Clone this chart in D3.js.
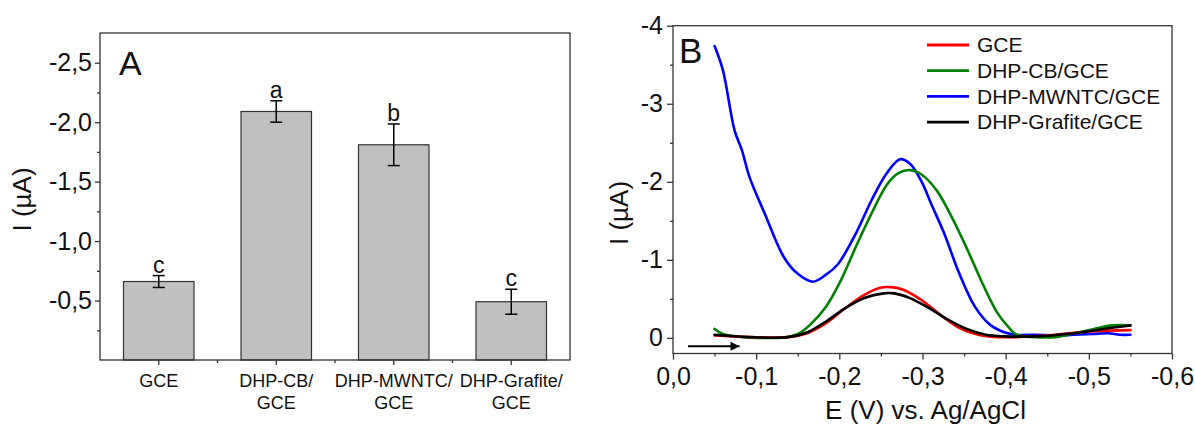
<!DOCTYPE html>
<html>
<head>
<meta charset="utf-8">
<script src="https://cdn.jsdelivr.net/npm/d3@7"></script>
<style>
  html, body { margin: 0; padding: 0; background: #fff; }
  svg text { font-family: Arial, "Liberation Sans", sans-serif; fill: #111; }
</style>
</head>
<body>
<svg id="chart" width="1195" height="426"></svg>
<script>
// ---------- Panel A data ----------
const categories = ["GCE", "DHP-CB/GCE", "DHP-MWNTC/GCE", "DHP-Grafite/GCE"];
const categoryLines = [["GCE"], ["DHP-CB/", "GCE"], ["DHP-MWNTC/", "GCE"], ["DHP-Grafite/", "GCE"]];
const barValues = [-0.66, -2.09, -1.81, -0.49];
const barErrors = [0.05, 0.09, 0.175, 0.105];
const barLetters = ["c", "a", "b", "c"];
const yTicksA = [-0.5, -1.0, -1.5, -2.0, -2.5];
const yMinorA = [-0.25, -0.75, -1.25, -1.75, -2.25];

// ---------- Panel B data (E in V, I in µA) ----------
const seriesNames = ["GCE", "DHP-CB/GCE", "DHP-MWNTC/GCE", "DHP-Grafite/GCE"];
const seriesColors = ["#ff0000", "#008000", "#0000ff", "#000000"];
const mwntcE = [-0.05, -0.06, -0.074, -0.083, -0.092, -0.110, -0.133, -0.149, -0.168, -0.184, -0.198, -0.220, -0.239, -0.257, -0.273, -0.285, -0.298, -0.312, -0.326, -0.344, -0.363, -0.381, -0.399, -0.413, -0.436, -0.459, -0.482, -0.505, -0.523, -0.537, -0.55];
const mwntcI = [-3.74, -3.43, -2.66, -2.40, -2.06, -1.60, -1.04, -0.83, -0.72, -0.81, -0.94, -1.34, -1.77, -2.11, -2.29, -2.23, -2.02, -1.68, -1.34, -0.83, -0.40, -0.17, -0.07, -0.04, -0.04, -0.03, -0.04, -0.05, -0.06, -0.04, -0.04];
const cbE = [-0.05, -0.06, -0.083, -0.115, -0.138, -0.152, -0.165, -0.184, -0.202, -0.220, -0.239, -0.257, -0.271, -0.285, -0.298, -0.317, -0.335, -0.354, -0.372, -0.390, -0.404, -0.413, -0.436, -0.459, -0.482, -0.505, -0.528, -0.55];
const cbI = [-0.115, -0.05, -0.01, 0.0, -0.01, -0.06, -0.17, -0.40, -0.74, -1.17, -1.60, -1.96, -2.11, -2.15, -2.10, -1.89, -1.55, -1.13, -0.70, -0.32, -0.13, -0.04, -0.01, -0.01, -0.06, -0.11, -0.16, -0.16];
const gceE = [-0.05, -0.092, -0.138, -0.161, -0.184, -0.207, -0.230, -0.248, -0.262, -0.276, -0.298, -0.321, -0.344, -0.367, -0.390, -0.413, -0.459, -0.505, -0.55];
const gceI = [-0.03, -0.01, -0.01, -0.06, -0.19, -0.38, -0.55, -0.64, -0.65, -0.62, -0.49, -0.30, -0.13, -0.04, -0.01, -0.01, -0.04, -0.085, -0.10];
const grafE = [-0.05, -0.092, -0.138, -0.161, -0.184, -0.207, -0.230, -0.253, -0.266, -0.285, -0.308, -0.331, -0.354, -0.376, -0.399, -0.436, -0.482, -0.528, -0.55];
const grafI = [-0.04, -0.01, -0.01, -0.07, -0.21, -0.38, -0.51, -0.57, -0.57, -0.51, -0.38, -0.23, -0.11, -0.04, -0.02, -0.02, -0.06, -0.13, -0.16];
const xTicksB = [0, -0.1, -0.2, -0.3, -0.4, -0.5, -0.6];
const xMinorB = [-0.05, -0.15, -0.25, -0.35, -0.45, -0.55];
const yTicksB = [0, -1, -2, -3, -4];
const yMinorB = [-0.5, -1.5, -2.5, -3.5];
const arrowE = [-0.018, -0.08];
const arrowI = 0.107;

const svg = d3.select("#chart");
const axisColor = "#333";
const comma = v => d3.format(".1f")(v).replace(".", ",").replace("\u2212", "-");
const intFmt = v => d3.format("d")(v).replace("\u2212", "-");

// ================= Panel A =================
const A = { left: 100, right: 570, top: 33, bottom: 360 };
const xA = d3.scaleBand().domain(categories).range([A.left, A.right]).paddingInner(0.4).paddingOuter(0.2);
const yA = d3.scaleLinear().domain([0, -2.75]).range([A.bottom, A.top]);
const gA = svg.append("g");

// bars
gA.selectAll("rect.bar").data(categories).join("rect")
  .attr("class", "bar")
  .attr("x", d => xA(d))
  .attr("width", xA.bandwidth())
  .attr("y", (d, i) => yA(barValues[i]))
  .attr("height", (d, i) => yA(0) - yA(barValues[i]))
  .attr("fill", "#c0c0c0").attr("stroke", "#333").attr("stroke-width", 1.2);

// error bars
const capW = 6;
categories.forEach((c, i) => {
  const cx = xA(c) + xA.bandwidth() / 2;
  const y1 = yA(barValues[i] - barErrors[i]);
  const y2 = yA(barValues[i] + barErrors[i]);
  gA.append("line").attr("x1", cx).attr("x2", cx).attr("y1", y1).attr("y2", y2).attr("stroke", "#000").attr("stroke-width", 1.5);
  gA.append("line").attr("x1", cx - capW).attr("x2", cx + capW).attr("y1", y1).attr("y2", y1).attr("stroke", "#000").attr("stroke-width", 1.5);
  gA.append("line").attr("x1", cx - capW).attr("x2", cx + capW).attr("y1", y2).attr("y2", y2).attr("stroke", "#000").attr("stroke-width", 1.5);
  gA.append("text").attr("x", cx).attr("y", y1 - 3).attr("text-anchor", "middle")
    .style("font-size", "23px").text(barLetters[i]);
});

// frame
gA.append("rect").attr("x", A.left).attr("y", A.top).attr("width", A.right - A.left).attr("height", A.bottom - A.top)
  .attr("fill", "none").attr("stroke", axisColor).attr("stroke-width", 1.3);

// y axis A
const yAxA = gA.append("g").attr("transform", `translate(${A.left},0)`)
  .call(d3.axisLeft(yA).tickValues(yTicksA).tickFormat(comma).tickSize(5).tickPadding(3));
yAxA.select(".domain").remove();
yAxA.selectAll("line").attr("stroke", axisColor).attr("stroke-width", 1.3);
yAxA.selectAll("text").style("font-size", "25px").attr("fill", "#111");
const yAxAm = gA.append("g").attr("transform", `translate(${A.left},0)`)
  .call(d3.axisLeft(yA).tickValues(yMinorA).tickFormat("").tickSize(3));
yAxAm.select(".domain").remove();
yAxAm.selectAll("line").attr("stroke", axisColor).attr("stroke-width", 1.3);

// x axis A
const xAxA = gA.append("g").attr("transform", `translate(0,${A.bottom})`)
  .call(d3.axisBottom(xA).tickSize(5).tickFormat(""));
xAxA.select(".domain").remove();
xAxA.selectAll("line").attr("stroke", axisColor).attr("stroke-width", 1.3);
categories.slice(1).forEach(c => {
  const bx = xA(c) - xA.step() * xA.paddingInner() / 2;
  gA.append("line").attr("x1", bx).attr("x2", bx).attr("y1", A.bottom).attr("y2", A.bottom + 3)
    .attr("stroke", axisColor).attr("stroke-width", 1.3);
});
categories.forEach((c, i) => {
  const cx = xA(c) + xA.bandwidth() / 2;
  const t = gA.append("text").attr("x", cx).attr("y", A.bottom + 27).attr("text-anchor", "middle").style("font-size", "18px");
  categoryLines[i].forEach((ln, j) => {
    t.append("tspan").attr("x", cx).attr("dy", j === 0 ? 0 : 22).text(ln);
  });
});

gA.append("text").attr("transform", `translate(31,${(A.top + A.bottom) / 2 + 3}) rotate(-90)`)
  .attr("text-anchor", "middle").style("font-size", "26px").text("I (µA)");
gA.append("text").attr("x", 119).attr("y", 75).style("font-size", "34px").text("A");

// ================= Panel B =================
const B = { left: 673, right: 1172, top: 25.7, bottom: 353.5 };
const xB = d3.scaleLinear().domain([0, -0.6]).range([B.left, B.right]);
const yB = d3.scaleLinear().domain([0.2, -4]).range([B.bottom, B.top]);
const gB = svg.append("g");

const seriesData = [
  { name: seriesNames[0], color: seriesColors[0], E: gceE, I: gceI },
  { name: seriesNames[1], color: seriesColors[1], E: cbE, I: cbI },
  { name: seriesNames[2], color: seriesColors[2], E: mwntcE, I: mwntcI },
  { name: seriesNames[3], color: seriesColors[3], E: grafE, I: grafI }
];
const line = d3.line().x(d => xB(d[0])).y(d => yB(d[1])).curve(d3.curveCatmullRom.alpha(0.5));
const drawOrder = [2, 1, 0, 3];
drawOrder.forEach(k => {
  const s = seriesData[k];
  gB.append("path").datum(s.E.map((e, i) => [e, s.I[i]]))
    .attr("d", line).attr("fill", "none").attr("stroke", s.color).attr("stroke-width", 2.6)
    .attr("stroke-linejoin", "round").attr("stroke-linecap", "round");
});

// arrow
svg.append("defs").append("marker").attr("id", "arr").attr("viewBox", "0 0 10 10")
  .attr("refX", 10).attr("refY", 5).attr("markerWidth", 15).attr("markerHeight", 9)
  .attr("markerUnits", "userSpaceOnUse").attr("orient", "auto")
  .append("path").attr("d", "M0,0 L10,5 L0,10 Z").attr("fill", "#000");
gB.append("line").attr("x1", xB(arrowE[0])).attr("x2", xB(arrowE[1])).attr("y1", yB(arrowI)).attr("y2", yB(arrowI))
  .attr("stroke", "#000").attr("stroke-width", 2.2).attr("marker-end", "url(#arr)");

// frame
gB.append("rect").attr("x", B.left).attr("y", B.top).attr("width", B.right - B.left).attr("height", B.bottom - B.top)
  .attr("fill", "none").attr("stroke", axisColor).attr("stroke-width", 1.3);

const yAxB = gB.append("g").attr("transform", `translate(${B.left},0)`)
  .call(d3.axisLeft(yB).tickValues(yTicksB).tickFormat(intFmt).tickSize(6).tickPadding(4));
yAxB.select(".domain").remove();
yAxB.selectAll("line").attr("stroke", axisColor).attr("stroke-width", 1.3);
yAxB.selectAll("text").style("font-size", "25px").attr("fill", "#111");
const yAxBm = gB.append("g").attr("transform", `translate(${B.left},0)`)
  .call(d3.axisLeft(yB).tickValues(yMinorB).tickFormat("").tickSize(3));
yAxBm.select(".domain").remove();
yAxBm.selectAll("line").attr("stroke", axisColor).attr("stroke-width", 1.3);

const xAxB = gB.append("g").attr("transform", `translate(0,${B.bottom})`)
  .call(d3.axisBottom(xB).tickValues(xTicksB).tickFormat(comma).tickSize(6).tickPadding(8));
xAxB.select(".domain").remove();
xAxB.selectAll("line").attr("stroke", axisColor).attr("stroke-width", 1.3);
xAxB.selectAll("text").style("font-size", "25px").attr("fill", "#111");
const xAxBm = gB.append("g").attr("transform", `translate(0,${B.bottom})`)
  .call(d3.axisBottom(xB).tickValues(xMinorB).tickFormat("").tickSize(3));
xAxBm.select(".domain").remove();
xAxBm.selectAll("line").attr("stroke", axisColor).attr("stroke-width", 1.3);

gB.append("text").attr("x", (B.left + B.right) / 2 + 3).attr("y", 419).attr("text-anchor", "middle")
  .style("font-size", "26px").text("E (V) vs. Ag/AgCl");
gB.append("text").attr("transform", `translate(628,213) rotate(-90)`)
  .attr("text-anchor", "middle").style("font-size", "26px").text("I (µA)");
gB.append("text").attr("x", 679).attr("y", 63).style("font-size", "35px").text("B");

// legend
const leg = gB.append("g");
seriesData.forEach((s, i) => {
  const ly = 45 + i * 25.7;
  leg.append("line").attr("x1", 927).attr("x2", 969).attr("y1", ly).attr("y2", ly)
    .attr("stroke", s.color).attr("stroke-width", 2.8);
  leg.append("text").attr("x", 977).attr("y", ly).attr("dy", "0.35em").style("font-size", "21px").text(s.name);
});
</script>
</body>
</html>
